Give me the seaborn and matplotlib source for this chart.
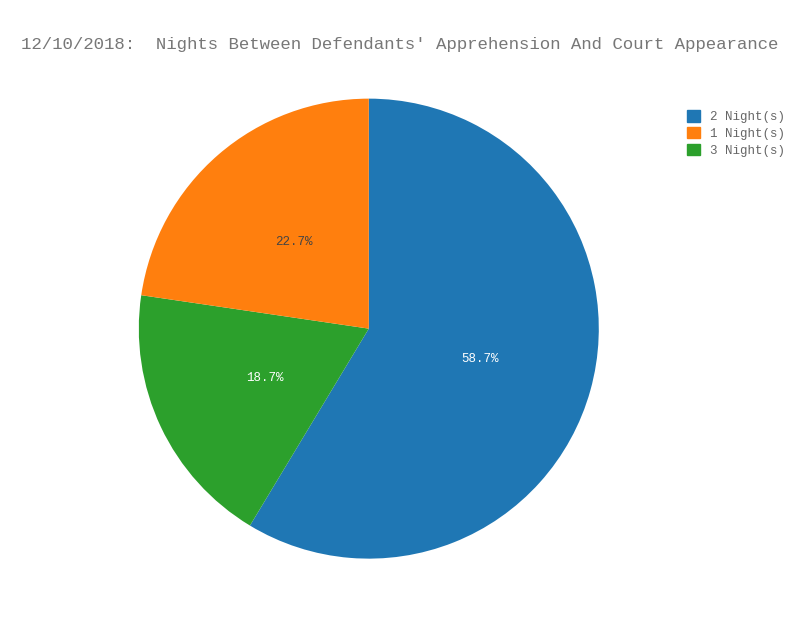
import matplotlib
matplotlib.use("Agg")
import matplotlib.pyplot as plt
import seaborn as sns
from matplotlib.patches import Patch

labels = ["2 Night(s)", "3 Night(s)", "1 Night(s)"]
values = [58.7, 18.7, 22.7]
colors_map = {"2 Night(s)": "#1f77b4", "1 Night(s)": "#ff7f0e", "3 Night(s)": "#2ca02c"}
legend_order = ["2 Night(s)", "1 Night(s)", "3 Night(s)"]

sns.set_theme(style="white", font="Liberation Mono")
fig = plt.figure(figsize=(8, 6.4), dpi=100)
ax = fig.add_axes([0.461 - 0.2875, 0.486 - 0.359, 0.575, 0.719])
cols = [colors_map[l] for l in labels]
wedges, texts, autotexts = ax.pie(values, colors=cols, startangle=90, counterclock=False,
                                  labels=None, pctdistance=0.5, autopct="%.1f%%",
                                  wedgeprops=dict(linewidth=0))
for l, v, t in zip(labels, values, autotexts):
    t.set_text(f"{v:.1f}%")
    t.set_fontsize(9)
    t.set_color("#444444" if l == "1 Night(s)" else "white")
ax.set_xlim(-1, 1)
ax.set_ylim(-1, 1)
ax.set_aspect("equal")
fig.text(0.5, 0.93, "12/10/2018:  Nights Between Defendants' Apprehension And Court Appearance",
         ha="center", va="center", fontsize=12.5, color="#777777")
handles = [Patch(color=colors_map[l], label=l) for l in legend_order]
leg = fig.legend(handles=handles, loc="upper left", bbox_to_anchor=(0.845, 0.845),
                 frameon=False, fontsize=9, handlelength=1, handleheight=1,
                 labelspacing=0.3)
for t in leg.get_texts():
    t.set_color("#666666")
fig.savefig("out.png")
